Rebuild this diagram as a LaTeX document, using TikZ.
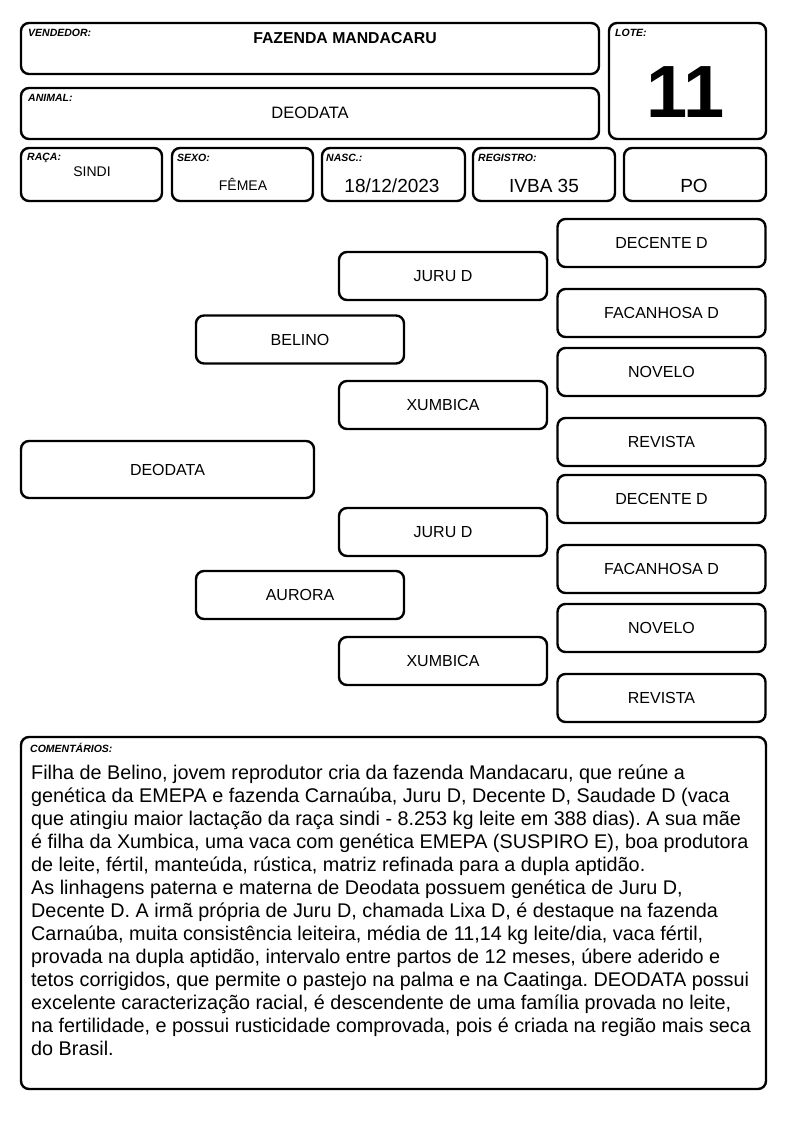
\documentclass[tikz,border=0pt]{standalone}
\usepackage{fontspec}
\setmainfont{Liberation Sans}
\usetikzlibrary{positioning}
\frenchspacing

\begin{document}
\begin{tikzpicture}[x=1pt, y=-1pt,
  frame/.style={draw, line width=2.4pt, rounded corners=8pt, outer sep=0pt, inner sep=0pt, align=center},
  headbox/.style={frame, minimum height=51pt},
  smallbox/.style={frame, minimum height=53pt},
  pedbox/.style={frame, minimum width=208pt, minimum height=48pt, font=\fontsize{16}{18}\selectfont},
  lbl/.style={anchor=north west, inner sep=0pt, font=\fontsize{10.5}{11}\selectfont\bfseries\itshape},
  val/.style={inner sep=0pt, font=\fontsize{14}{16}\selectfont},
  bigval/.style={inner sep=0pt, font=\fontsize{19}{21}\selectfont}]
\useasboundingbox (0,0) rectangle (794,1123);
% header
\node[headbox, minimum width=578pt] (vend) at (310,48.5) {};
\node[lbl] (vendlbl) at ([shift={(7,6)}]vend.north west) {VENDEDOR:};
\node[val, font=\fontsize{15.8}{17}\selectfont\bfseries] (vendval) at (345,38) {FAZENDA MANDACARU};
\node[frame, minimum width=157pt, minimum height=116pt] (lote) at (687.5,81) {};
\node[lbl] (lotelbl) at ([shift={(6,6)}]lote.north west) {LOTE:};
\node[inner sep=0pt, font=\fontsize{74}{80}\selectfont\bfseries] (loteval) at (686,92) {11};
\node[headbox, minimum width=578pt] (animal) at (310,113.5) {};
\node[lbl] (animallbl) at ([shift={(7,6)}]animal.north west) {ANIMAL:};
\node[val, font=\fontsize{16.5}{18}\selectfont] (animalval) at (310,113) {DEODATA};
% second row
\node[smallbox, minimum width=141pt] (raca) at (91.5,174.5) {};
\node[lbl] (racalbl) at ([shift={(6,5)}]raca.north west) {RAÇA:};
\node[val] (racaval) at (92,172) {SINDI};
\node[smallbox, minimum width=141pt] (sexo) at (242.5,174.5) {};
\node[lbl] (sexolbl) at ([shift={(5,6)}]sexo.north west) {SEXO:};
\node[val] (sexoval) at (243,184) {FÊMEA};
\node[smallbox, minimum width=143pt] (nasc) at (393.5,174.5) {};
\node[lbl] (nasclbl) at ([shift={(4,6)}]nasc.north west) {NASC.:};
\node[bigval] (nascval) at (392,186) {18/12/2023};
\node[smallbox, minimum width=142pt] (reg) at (544,174.5) {};
\node[lbl] (reglbl) at ([shift={(5,6)}]reg.north west) {REGISTRO:};
\node[bigval] (regval) at (544,186) {IVBA 35};
\node[smallbox, minimum width=142pt] (po) at (695,174.5) {};
\node[bigval] (poval) at (694,186) {PO};
% pedigree
\node[pedbox, minimum width=293pt, minimum height=57pt] (deodata) at (167.5,469.5) {DEODATA};
\node[pedbox] (belino) at (300,339.5) {BELINO};
\node[pedbox] (aurora) at (300,595) {AURORA};
\node[pedbox] (juru1) at (443,276) {JURU D};
\node[pedbox] (xumbica1) at (443,405) {XUMBICA};
\node[pedbox] (juru2) at (443,532) {JURU D};
\node[pedbox] (xumbica2) at (443,661) {XUMBICA};
\node[pedbox] (decente1) at (661.5,243) {DECENTE D};
\node[pedbox] (facanhosa1) at (661.5,313) {FACANHOSA D};
\node[pedbox] (novelo1) at (661.5,372) {NOVELO};
\node[pedbox] (revista1) at (661.5,442) {REVISTA};
\node[pedbox] (decente2) at (661.5,499) {DECENTE D};
\node[pedbox] (facanhosa2) at (661.5,569) {FACANHOSA D};
\node[pedbox] (novelo2) at (661.5,628) {NOVELO};
\node[pedbox] (revista2) at (661.5,698) {REVISTA};
% comments
\node[frame, minimum width=745pt, minimum height=352pt] (coment) at (393.5,913) {};
\node[lbl] (comentlbl) at ([shift={(9,6)}]coment.north west) {COMENTÁRIOS:};
\node[anchor=north west, inner sep=0pt, align=left, font=\fontsize{19.8}{23}\selectfont] (comenttxt) at (31,765) {Filha de Belino, jovem reprodutor cria da fazenda Mandacaru, que reúne a\\
genética da EMEPA e fazenda Carnaúba, Juru D, Decente D, Saudade D (vaca\\
que atingiu maior lactação da raça sindi - 8.253 kg leite em 388 dias). A sua mãe\\
é filha da Xumbica, uma vaca com genética EMEPA (SUSPIRO E), boa produtora\\
de leite, fértil, manteúda, rústica, matriz refinada para a dupla aptidão.\\
As linhagens paterna e materna de Deodata possuem genética de Juru D,\\
Decente D. A irmã própria de Juru D, chamada Lixa D, é destaque na fazenda\\
Carnaúba, muita consistência leiteira, média de 11,14 kg leite/dia, vaca fértil,\\
provada na dupla aptidão, intervalo entre partos de 12 meses, úbere aderido e\\
tetos corrigidos, que permite o pastejo na palma e na Caatinga. DEODATA possui\\
excelente caracterização racial, é descendente de uma família provada no leite,\\
na fertilidade, e possui rusticidade comprovada, pois é criada na região mais seca\\
do Brasil.};
\end{tikzpicture}
\end{document}
